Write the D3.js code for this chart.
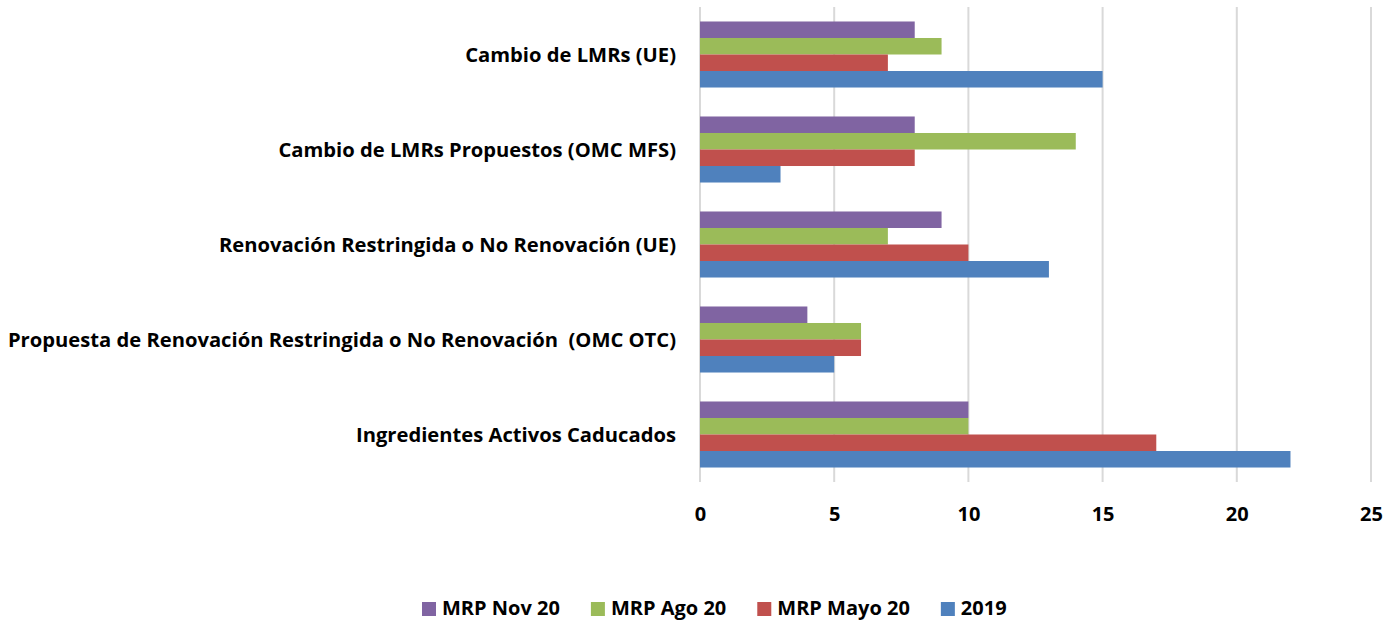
<!DOCTYPE html>
<html><head><meta charset="utf-8">
<script src="https://cdn.jsdelivr.net/npm/d3@7"></script>
<style>body{margin:0;background:#fff;} text{font-family:"Open Sans",sans-serif;font-weight:bold;fill:#000;}</style>
</head><body>
<svg id="c" width="1398" height="623"></svg>
<script>
const categories = [
  "Cambio de LMRs (UE)",
  "Cambio de LMRs Propuestos (OMC MFS)",
  "Renovación Restringida o No Renovación (UE)",
  "Propuesta de Renovación Restringida o No Renovación  (OMC OTC)",
  "Ingredientes Activos Caducados"
];
const seriesNames = ["MRP Nov 20", "MRP Ago 20", "MRP Mayo 20", "2019"];
const seriesColors = ["#8064A2", "#9BBB59", "#C0504D", "#4F81BD"];
const nov20 = [8, 8, 9, 4, 10];
const ago20 = [9, 14, 7, 6, 10];
const mayo20 = [7, 8, 10, 6, 17];
const y2019 = [15, 3, 13, 5, 22];
const xTicks = [0, 5, 10, 15, 20, 25];

const seriesValues = [nov20, ago20, mayo20, y2019];
const svg = d3.select("#c");
const mLeft = 700, mRight = 1371, mTop = 7, mBottom = 482;

const x = d3.scaleLinear().domain([0, 25]).range([mLeft, mRight]);
const y = d3.scaleBand().domain(categories).range([mTop, mBottom]).paddingInner(0.305).paddingOuter(0.1525);
const ys = d3.scaleBand().domain(seriesNames).range([0, y.bandwidth()]);

// gridlines
svg.append("g").selectAll("line").data(xTicks).join("line")
  .attr("x1", d => x(d)).attr("x2", d => x(d))
  .attr("y1", mTop).attr("y2", mBottom)
  .attr("stroke", "#d9d9d9").attr("stroke-width", 2);

// bars
const g = svg.append("g");
seriesNames.forEach((s, si) => {
  g.append("g").selectAll("rect").data(categories).join("rect")
    .attr("x", x(0))
    .attr("y", c => y(c) + ys(s))
    .attr("width", (c, i) => x(seriesValues[si][i]) - x(0))
    .attr("height", ys.bandwidth())
    .attr("fill", seriesColors[si]);
});

// category labels
svg.append("g").selectAll("text").data(categories).join("text")
  .attr("x", mLeft - 24)
  .attr("y", c => y(c) + y.bandwidth() / 2)
  .attr("text-anchor", "end").attr("dy", "0.36em")
  .style("font-size", "20.2px")
  .style("white-space", "pre")
  .text(d => d);

// x axis tick labels
const xAxis = d3.axisBottom(x).tickValues(xTicks).tickSize(0).tickPadding(0);
const ax = svg.append("g").attr("transform", `translate(0,${mBottom})`).call(xAxis);
ax.select(".domain").remove();
ax.selectAll("text").attr("y", 39).attr("dy", null)
  .style("font-size", "20px").style("font-family", "'Open Sans', sans-serif").style("font-weight", "bold").attr("fill", "#000");

// legend
const leg = svg.append("g");
let lx = 422;
seriesNames.forEach((s, i) => {
  leg.append("rect").attr("x", lx).attr("y", 602).attr("width", 14).attr("height", 14).attr("fill", seriesColors[i]);
  const t = leg.append("text").attr("x", lx + 20).attr("y", 615)
    .style("font-size", "20px").text(s);
  lx = lx + 20 + t.node().getComputedTextLength() + 31;
});
</script>
</body></html>
